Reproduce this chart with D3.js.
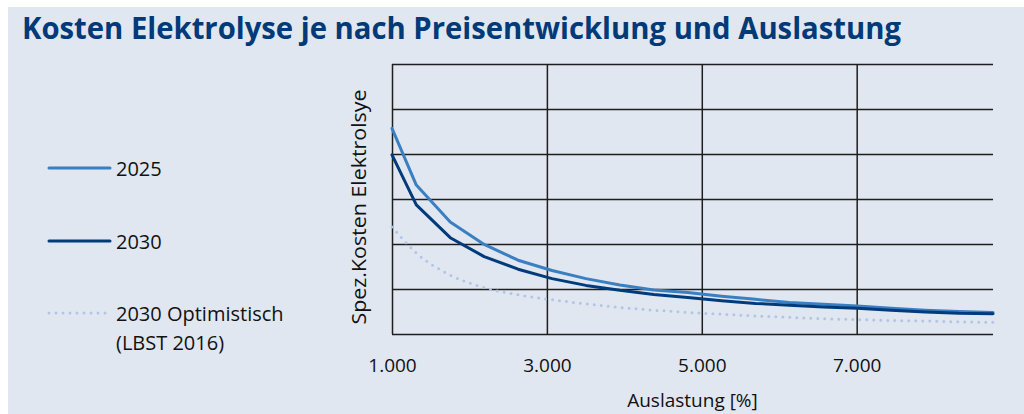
<!DOCTYPE html>
<html>
<head>
<meta charset="utf-8">
<script src="https://cdn.jsdelivr.net/npm/d3@7/dist/d3.min.js"></script>
<style>
  html, body { margin: 0; padding: 0; background: #ffffff; }
  svg { display: block; }
  text { font-family: "Open Sans", "DejaVu Sans", sans-serif; }
</style>
</head>
<body>
<svg id="chart" width="1024" height="414"></svg>
<script>
// ---- data ----
const title = "Kosten Elektrolyse je nach Preisentwicklung und Auslastung";
const xLabel = "Auslastung [%]";
const yLabel = "Spez.Kosten Elektrolsye";
const hours = [1000, 1314, 1752, 2190, 2628, 3066, 3504, 3942, 4380, 4818, 5256, 5694, 6132, 6570, 7008, 7446, 7884, 8322, 8760];
const cost2025 = [4.57, 3.31, 2.49, 1.99, 1.64, 1.41, 1.23, 1.09, 0.98, 0.92, 0.84, 0.77, 0.70, 0.66, 0.62, 0.57, 0.53, 0.50, 0.48];
const cost2030 = [3.98, 2.87, 2.14, 1.72, 1.44, 1.23, 1.08, 0.97, 0.88, 0.81, 0.74, 0.68, 0.64, 0.60, 0.57, 0.53, 0.49, 0.46, 0.45];
const cost2030opt = [2.38, 1.80, 1.31, 1.03, 0.87, 0.76, 0.67, 0.59, 0.53, 0.48, 0.44, 0.40, 0.37, 0.34, 0.32, 0.30, 0.29, 0.27, 0.26];
const xTicks = [1000, 3000, 5000, 7000];
const xTickLabels = ["1.000", "3.000", "5.000", "7.000"];
const yTicks = [0, 1, 2, 3, 4, 5, 6];
const seriesNames = ["2025", "2030", "2030 Optimistisch", "(LBST 2016)"];

const svg = d3.select("#chart");

// background panel
svg.append("rect").attr("x", 8).attr("y", 7).attr("width", 1016).attr("height", 407).attr("fill", "#e0e7f0");

// title
svg.append("text").attr("x", 22).attr("y", 39)
  .attr("font-size", 30).attr("font-weight", 700).attr("fill", "#003a78")
  .attr("textLength", 879).attr("lengthAdjust", "spacingAndGlyphs")
  .text(title);

// scales
const x = d3.scaleLinear().domain([1000, 8760]).range([392, 993]);
const y = d3.scaleLinear().domain([0, 6]).range([334, 64]);

// horizontal grid
const gY = svg.append("g").attr("transform", `translate(${x.range()[0]},0)`)
  .call(d3.axisLeft(y).tickValues(yTicks).tickSize(-(x.range()[1] - x.range()[0])).tickFormat(""));
gY.select(".domain").remove();
gY.selectAll(".tick line").attr("stroke", "#1e1e1e").attr("stroke-width", 1.5);

// vertical grid + labels
const gX = svg.append("g").attr("transform", `translate(0,${y.range()[0]})`)
  .call(d3.axisBottom(x).tickValues(xTicks).tickSize(-(y.range()[0] - y.range()[1])).tickPadding(25)
    .tickFormat((d, i) => xTickLabels[i]));
gX.select(".domain").remove();
gX.selectAll(".tick line").attr("stroke", "#1e1e1e").attr("stroke-width", 1.5);
gX.selectAll(".tick text").attr("font-size", 19).attr("fill", "#111").attr("font-family", "Open Sans");

// axis titles
svg.append("text").attr("x", (x.range()[0] + x.range()[1]) / 2).attr("y", 407)
  .attr("text-anchor", "middle").attr("font-size", 19).attr("fill", "#111").text(xLabel);
svg.append("text").attr("transform", "translate(366,207) rotate(-90)")
  .attr("text-anchor", "middle").attr("font-size", 20).attr("fill", "#111")
  .attr("textLength", 235).attr("lengthAdjust", "spacingAndGlyphs")
  .text(yLabel);

// lines
const series = [
  { values: cost2030opt, color: "#b3c5e6", dash: "0,7", width: 3, curve: d3.curveMonotoneX },
  { values: cost2025, color: "#3a7fc1", dash: null, width: 3, curve: d3.curveLinear },
  { values: cost2030, color: "#003b7b", dash: null, width: 3, curve: d3.curveLinear }
];
series.forEach(s => {
  const line = d3.line().x((d, i) => x(hours[i])).y(d => y(d)).curve(s.curve);
  svg.append("path").datum(s.values).attr("d", line)
    .attr("fill", "none").attr("stroke", s.color).attr("stroke-width", s.width)
    .attr("stroke-linecap", "round").attr("stroke-linejoin", "round")
    .attr("stroke-dasharray", s.dash);
});

// legend
const legend = [
  { name: seriesNames[0], color: "#3a7fc1", dash: null, y: 168 },
  { name: seriesNames[1], color: "#003b7b", dash: null, y: 241 },
  { name: seriesNames[2], color: "#b3c5e6", dash: "0,7", y: 313, sub: seriesNames[3] }
];
legend.forEach(l => {
  svg.append("line").attr("x1", 49).attr("x2", 110).attr("y1", l.y).attr("y2", l.y)
    .attr("stroke", l.color).attr("stroke-width", 3).attr("stroke-linecap", "round")
    .attr("stroke-dasharray", l.dash);
  svg.append("text").attr("x", 116).attr("y", l.y + 8).attr("font-size", 20).attr("fill", "#111").text(l.name);
  if (l.sub) svg.append("text").attr("x", 116).attr("y", l.y + 37).attr("font-size", 20).attr("fill", "#111").text(l.sub);
});
</script>
</body>
</html>
